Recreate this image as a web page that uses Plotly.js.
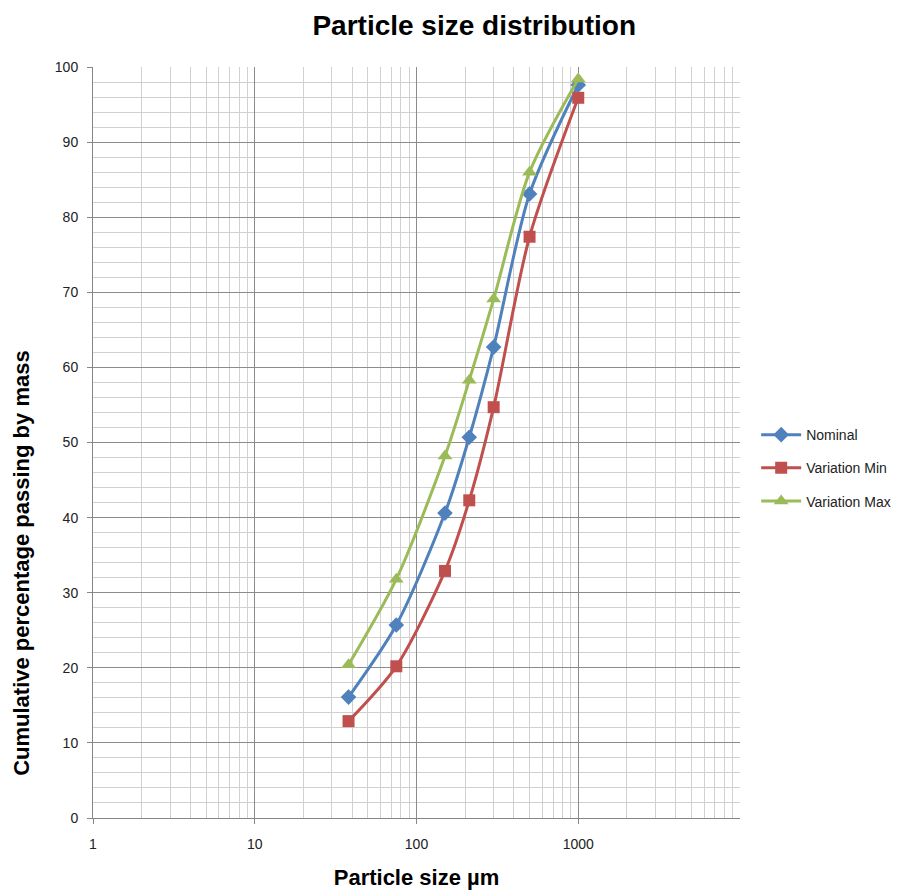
<!DOCTYPE html>
<html>
<head>
<meta charset="utf-8">
<script src="https://cdn.plot.ly/plotly-3.0.1.min.js"></script>
<style>html,body{margin:0;padding:0;background:#fff;}#chart{width:912px;height:890px;}</style>
</head>
<body>
<div id="chart"></div>
<script>
// Data
const sizes = [38, 75, 150, 212, 300, 500, 1000];
const nominal = [16.1, 25.7, 40.6, 50.7, 62.7, 83.1, 97.6];
const variationMin = [12.9, 20.2, 32.9, 42.3, 54.7, 77.4, 95.9];
const variationMax = [20.4, 31.8, 48.2, 58.3, 69.1, 86.0, 98.4];
const seriesNames = ['Nominal', 'Variation Min', 'Variation Max'];
const xTickVals = [1, 10, 100, 1000];
const xTickText = ['1', '10', '100', '1000'];

const minorX = [];
[1, 10, 100, 1000].forEach(d => { for (let k = 2; k <= 9; k++) minorX.push(d * k); });

const font = 'Liberation Sans, Arial, sans-serif';
const traces = [
  {x: sizes, y: nominal, name: seriesNames[0], legendgroup: 'a', mode: 'lines+markers',
   line: {color: '#4F81BD', width: 3, shape: 'spline', smoothing: 0.8},
   marker: {symbol: 'diamond', size: 12, color: '#4F81BD'}},
  {x: sizes, y: variationMin, name: seriesNames[1], legendgroup: 'b', mode: 'lines+markers',
   line: {color: '#C0504D', width: 3, shape: 'spline', smoothing: 0.8},
   marker: {symbol: 'square', size: 12, color: '#C0504D'}},
  {x: sizes, y: variationMax, name: seriesNames[2], legendgroup: 'c', mode: 'lines+markers',
   line: {color: '#9BBB59', width: 3, shape: 'spline', smoothing: 0.8},
   marker: {symbol: 'triangle-up', size: 13, color: '#9BBB59'}}
];

const layout = {
  width: 912, height: 890,
  margin: {l: 93, r: 172, t: 67, b: 72},
  paper_bgcolor: '#ffffff', plot_bgcolor: '#ffffff',
  font: {family: font, color: '#222', size: 14},
  title: {text: '<b>Particle size distribution</b>', font: {family: font, size: 28, color: '#000'},
          x: 0.52, xanchor: 'center', y: 0.972, yanchor: 'middle'},
  xaxis: {
    type: 'log', range: [0, 4],
    tickmode: 'array', tickvals: xTickVals, ticktext: xTickText,
    ticks: 'outside', ticklen: 5, tickcolor: '#868686',
    ticklabelstandoff: 8,
    showgrid: true, gridcolor: '#8c8c8c', gridwidth: 1,
    minor: {tickmode: 'array', tickvals: minorX, showgrid: true, gridcolor: '#d0d0d0', gridwidth: 1, ticks: ''},
    showline: true, linecolor: '#868686', linewidth: 1,
    zeroline: false,
    tickfont: {family: font, size: 14, color: '#222'},
    title: {text: '<b>Particle size µm</b>', font: {family: font, size: 22, color: '#000'}, standoff: 20}
  },
  yaxis: {
    range: [0, 100], dtick: 10, tick0: 0,
    ticks: 'outside', ticklen: 5, tickcolor: '#868686',
    ticklabelstandoff: 6,
    showgrid: true, gridcolor: '#8c8c8c', gridwidth: 1,
    minor: {dtick: 2, showgrid: true, gridcolor: '#d0d0d0', gridwidth: 1, ticks: ''},
    showline: true, linecolor: '#868686', linewidth: 1,
    zeroline: false,
    tickfont: {family: font, size: 14, color: '#222'}
  },
  annotations: [{
    text: '<b>Cumulative percentage passing by mass</b>', textangle: -90,
    xref: 'paper', yref: 'paper', x: -0.111, y: 0.34, xanchor: 'center', yanchor: 'middle',
    showarrow: false, font: {family: font, size: 22, color: '#000'}
  }],
  legend: {x: 1.025, xanchor: 'left', y: 0.466, yanchor: 'middle',
           font: {family: font, size: 14, color: '#222'}, tracegroupgap: 12,
           bgcolor: 'rgba(0,0,0,0)', itemwidth: 40},
  showlegend: true
};

Plotly.newPlot('chart', traces, layout, {displayModeBar: false, staticPlot: true});
</script>
</body>
</html>
